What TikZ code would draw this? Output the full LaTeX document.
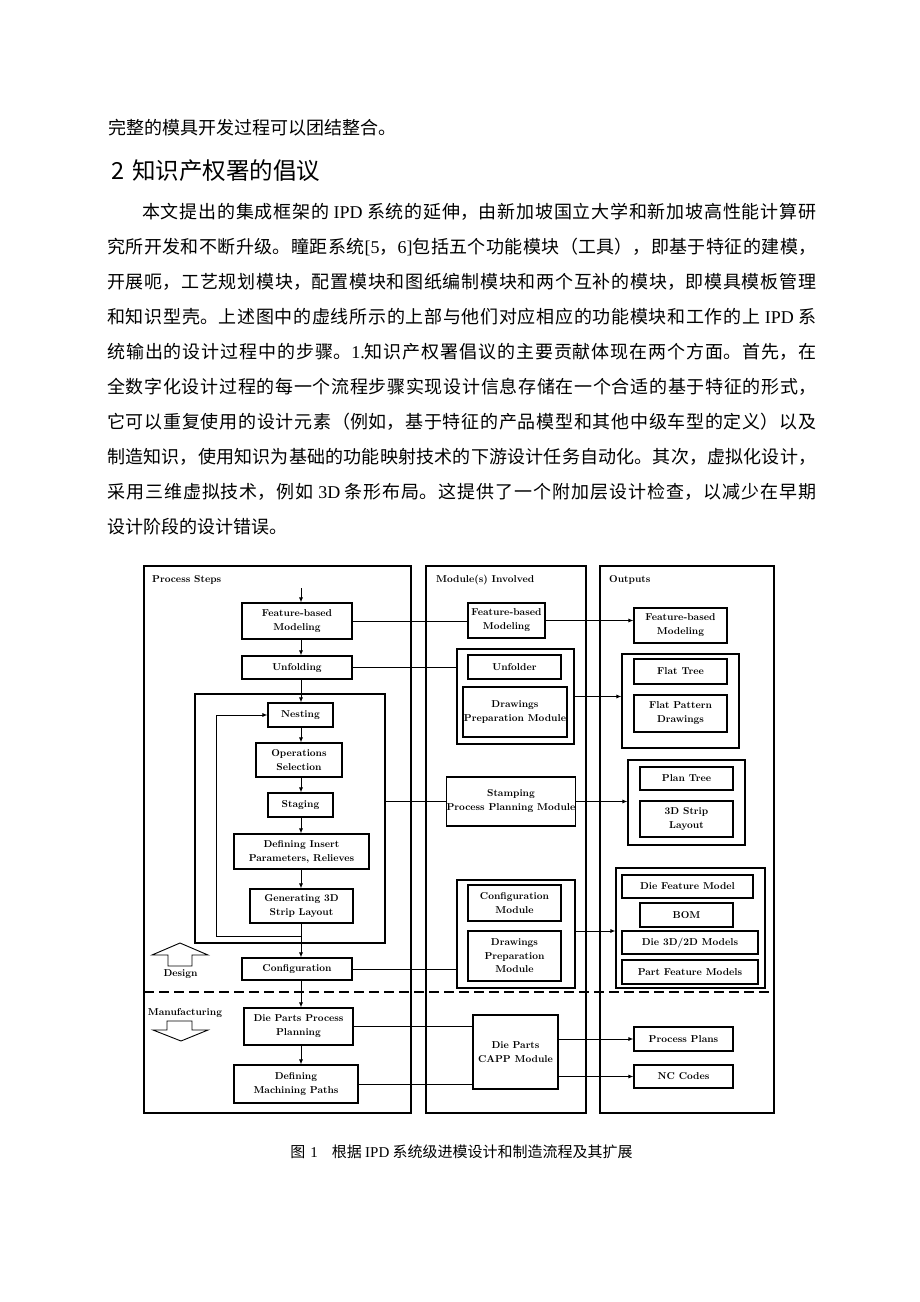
\documentclass[tikz,border=0pt]{standalone}
\usepackage{fontspec}
\newfontfamily\cjk{Noto Sans CJK SC}
\newfontfamily\tms{Liberation Serif}
\usetikzlibrary{arrows.meta}
\newcommand\myjfmt{\cjk\fontsize{18}{20}\selectfont\XeTeXlinebreaklocale "zh"\XeTeXlinebreakskip=0pt plus 4pt\relax\parfillskip=0pt\relax\tolerance=10000\relax}
\newcommand\myjline[4]{\node[txt] (#1) at (#2,#3) {\parbox[t]{\dimexpr 816pt-#2pt\relax}{\myjfmt #4}};}
\tikzset{
  txt/.style={inner sep=0pt, anchor=base west},
  sz/.style 2 args={minimum width=#1, minimum height=#2},
  box/.style={draw, line width=1.1pt, inner sep=1pt, align=center, font=\bfseries\fontsize{10}{14}\selectfont},
  frame/.style={draw, line width=1.1pt, inner sep=0pt},
  conn/.style={line width=0.9pt},
  arr/.style={conn, -{Latex[length=5pt,width=4pt]}},
  sepline/.style={line width=2.6pt, dash pattern=on 10pt off 5pt},
  lbl/.style={font=\bfseries\fontsize{10}{12}\selectfont, inner sep=0pt},
  blockarrow/.style={draw, line width=0.9pt, line join=miter},
}
\begin{document}
\begin{tikzpicture}[x=1pt,y=-1pt]
\fill[white] (0,0) rectangle (920,1302);
\useasboundingbox (0,0) rectangle (920,1302);

% ---------- running text ----------
\node[txt] (l0) at (108,134) {\cjk\fontsize{18}{20}\selectfont 完整的模具开发过程可以团结整合。};
\node[txt] (hd) at (111,179) {\cjk\fontsize{23.5}{26}\selectfont 2\hspace{8pt}知识产权署的倡议};
\myjline{p1}{142}{218}{本文提出的集成框架的 {\tms IPD} 系统的延伸，由新加坡国立大学和新加坡高性能计算研}
\myjline{p2}{107}{253}{究所开发和不断升级。瞳距系统{\tms [5}，{\tms 6]}包括五个功能模块（工具），即基于特征的建模，}
\myjline{p3}{107}{288}{开展呃，工艺规划模块，配置模块和图纸编制模块和两个互补的模块，即模具模板管理}
\myjline{p4}{107}{323}{和知识型壳。上述图中的虚线所示的上部与他们对应相应的功能模块和工作的上 {\tms IPD} 系}
\myjline{p5}{107}{358}{统输出的设计过程中的步骤。{\tms 1.}知识产权署倡议的主要贡献体现在两个方面。首先，在}
\myjline{p6}{107}{393}{全数字化设计过程的每一个流程步骤实现设计信息存储在一个合适的基于特征的形式，}
\myjline{p7}{107}{428}{它可以重复使用的设计元素（例如，基于特征的产品模型和其他中级车型的定义）以及}
\myjline{p8}{107}{463}{制造知识，使用知识为基础的功能映射技术的下游设计任务自动化。其次，虚拟化设计，}
\myjline{p9}{107}{498}{采用三维虚拟技术，例如 {\tms 3D} 条形布局。这提供了一个附加层设计检查，以减少在早期}
\node[txt] (p10) at (107,533) {\cjk\fontsize{18}{20}\selectfont 设计阶段的设计错误。};
\node[inner sep=0pt, anchor=base] (cap) at (461.5,1157) {\cjk\fontsize{15}{17}\selectfont 图\hspace{5pt}{\tms 1}\hspace{14pt}根据 {\tms IPD} 系统级进模设计和制造流程及其扩展};

% ---------- column frames ----------
\node[frame, sz={267pt}{547pt}] (psbox) at (277.5,839.5) {};
\node[frame, sz={160pt}{547pt}] (mbox) at (506,839.5) {};
\node[frame, sz={174pt}{547pt}] (obox) at (687,839.5) {};
\node[lbl, anchor=west] (pst) at (152,580) {Process Steps};
\node[lbl, anchor=west] (mst) at (436,580) {Module(s) Involved};
\node[lbl, anchor=west] (ost) at (609,580) {Outputs};

% ---------- process steps ----------
\coordinate (ax) at (301,0);
\coordinate (topin) at (301,588);
\node[box, sz={110pt}{36pt}] (fbm) at (297,621) {Feature-based\\Modeling};
\node[box, sz={110pt}{23pt}] (unf) at (297,667.5) {Unfolding};
\node[frame, sz={190pt}{249pt}] (inner) at (290,818.5) {};
\node[box, sz={65pt}{24pt}] (nest) at (300.5,715) {Nesting};
\node[box, sz={86pt}{34pt}] (ops) at (299,760) {Operations\\Selection};
\node[box, sz={65pt}{24pt}] (stag) at (300.5,805) {Staging};
\node[box, sz={135pt}{35pt}] (ins) at (301.5,851.5) {Defining Insert\\Parameters, Relieves};
\node[box, sz={103pt}{34pt}] (gen) at (301.5,906) {Generating 3D\\Strip Layout};
\node[box, sz={110pt}{22pt}] (conf) at (297,969) {Configuration};
\node[box, sz={109pt}{37pt}] (dpp) at (298.5,1026.5) {Die Parts Process\\Planning};
\node[box, sz={124pt}{38pt}] (mach) at (296,1084) {Defining\\Machining Paths};

% ---------- modules ----------
\node[box, sz={77pt}{35pt}] (mfbm) at (506.5,620.5) {Feature-based\\Modeling};
\node[frame, sz={117pt}{95pt}] (mg1) at (515.5,696.5) {};
\node[box, sz={93pt}{24pt}] (munf) at (514.5,667) {Unfolder};
\node[box, sz={104pt}{50pt}] (mdpm1) at (515,712) {Drawings\\Preparation Module};
\node[box, sz={128pt}{49pt}, inner sep=0pt] (stamp) at (511,801.5) {Stamping\\Process Planning Module};
\node[frame, sz={118pt}{108pt}] (mg2) at (516,934) {};
\node[box, sz={93pt}{36pt}] (mcm) at (514.5,903) {Configuration\\Module};
\node[box, sz={93pt}{50pt}, font=\bfseries\fontsize{10}{13.5}\selectfont] (mdpm2) at (514.5,956) {Drawings\\Preparation\\Module};
\node[box, sz={85pt}{74pt}] (capp) at (515.5,1052) {Die Parts\\CAPP Module};

% ---------- outputs ----------
\node[box, sz={93pt}{35pt}] (ofbm) at (680.5,625.5) {Feature-based\\Modeling};
\node[frame, sz={117pt}{94pt}] (og1) at (680.5,701) {};
\node[box, sz={93pt}{25pt}] (oflat) at (680.5,671.5) {Flat Tree};
\node[box, sz={93pt}{37pt}] (ofpd) at (680.5,713.5) {Flat Pattern\\Drawings};
\node[frame, sz={117pt}{85pt}] (og2) at (686.5,802.5) {};
\node[box, sz={93pt}{23pt}] (oplan) at (686.5,778.5) {Plan Tree};
\node[box, sz={93pt}{36pt}] (ostrip) at (686.5,819) {3D Strip\\Layout};
\node[frame, sz={149pt}{120pt}] (og3) at (690.5,928) {};
\node[box, sz={131pt}{23pt}] (odfm) at (687.5,886.5) {Die Feature Model};
\node[box, sz={93pt}{24pt}] (obom) at (686.5,915) {BOM};
\node[box, sz={136pt}{23pt}] (o3d) at (690,942.5) {Die 3D/2D Models};
\node[box, sz={136pt}{24pt}] (opfm) at (690,972) {Part Feature Models};
\node[box, sz={99pt}{24pt}] (opp) at (683.5,1039) {Process Plans};
\node[box, sz={99pt}{23pt}] (onc) at (683.5,1076.5) {NC Codes};

% ---------- separator and block arrows ----------
\coordinate (dl) at (144,992);
\coordinate (dr) at (774,992);
\draw[sepline] (dl) -- (dr);
\draw[blockarrow] (180,943) -- (208,955) -- (192,955) -- (192,966) -- (168,966) -- (168,955) -- (152,955) -- cycle;
\node[lbl] (dsg) at (180.5,974) {Design};
\node[lbl] (mfg) at (185,1013) {Manufacturing};
\draw[blockarrow] (167,1021) -- (192,1021) -- (192,1030) -- (208,1030) -- (181,1041) -- (153,1030) -- (167,1030) -- cycle;

% ---------- vertical flow ----------
\draw[arr] (topin) -- (fbm.north -| ax);
\draw[arr] (fbm.south -| ax) -- (unf.north -| ax);
\draw[arr] (unf.south -| ax) -- (nest.north -| ax);
\draw[arr] (nest.south -| ax) -- (ops.north -| ax);
\draw[arr] (ops.south -| ax) -- (stag.north -| ax);
\draw[arr] (stag.south -| ax) -- (ins.north -| ax);
\draw[arr] (ins.south -| ax) -- (gen.north -| ax);
\draw[arr] (gen.south -| ax) -- (conf.north -| ax);
\coordinate (lp) at (301,936);
\coordinate (lpc) at (216,936);
\draw[arr] (lp) -- (lpc) |- (nest.west);
\draw[arr] (conf.south -| ax) -- (dpp.north -| ax);
\draw[arr] (dpp.south -| ax) -- (mach.north -| ax);

% ---------- horizontal links ----------
\draw[conn] (fbm.east) -- (fbm.east -| mfbm.west);
\draw[arr] (mfbm.east) -- (mfbm.east -| ofbm.west);
\draw[conn] (unf.east) -- (unf.east -| mg1.west);
\draw[arr] (mg1.east) -- (mg1.east -| og1.west);
\draw[conn] (stamp.west -| inner.east) -- (stamp.west);
\draw[arr] (stamp.east) -- (stamp.east -| og2.west);
\draw[conn] (conf.east) -- (conf.east -| mg2.west);
\draw[arr] ([yshift=3pt]mg2.east) -- ([yshift=3pt]mg2.east -| og3.west);
\draw[conn] (dpp.east) -- (dpp.east -| capp.west);
\draw[conn] (mach.east) -- (mach.east -| capp.west);
\draw[arr] (opp.west -| capp.east) -- (opp.west);
\draw[arr] (onc.west -| capp.east) -- (onc.west);
\end{tikzpicture}
\end{document}
